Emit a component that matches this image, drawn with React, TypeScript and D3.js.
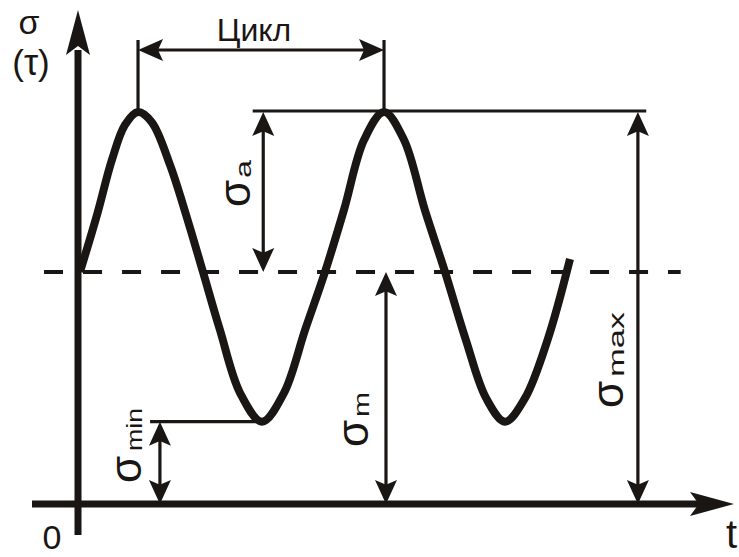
import React from "react";
import * as d3 from "d3";

// stress curve: time in cycles, stress in units of sigma
const WAVE_T = [0.008, 0.077, 0.138, 0.191, 0.244, 0.3, 0.374, 0.443, 0.508, 0.577, 0.659, 0.748, 0.837, 0.923, 1.004, 1.081, 1.163, 1.244, 1.325, 1.41, 1.492, 1.577, 1.659, 1.736, 1.817, 1.911, 2.0];
const WAVE_SIGMA = [5.92, 7.37, 8.78, 9.67, 10, 9.74, 8.65, 7.3, 5.92, 4.44, 2.83, 2.1, 2.83, 4.44, 5.92, 7.5, 9.29, 10, 9.29, 7.5, 5.92, 4.18, 2.7, 2.1, 2.7, 4.23, 6.25];

const SIGMA_MAX = 10;
const SIGMA_M = 5.92;
const SIGMA_MIN = 2.1;
const PEAK_T = [0.244, 1.244];
const TROUGH_T = [0.748, 1.736];

const W = 739;
const H = 557;
const INK = "#1a1614";
const FONT = "'Liberation Sans', Arial, sans-serif";

const x = d3.scaleLinear().domain([0, 1]).range([78, 324]);
const y = d3.scaleLinear().domain([0, 10]).range([504, 112]);

// arrow head with a small notch at the back, (dx, dy) = unit vector it points along
function head(tx: number, ty: number, dx: number, dy: number, len: number, hw: number) {
  const bx = tx - dx * len;
  const by = ty - dy * len;
  const nx = tx - dx * len * 0.8;
  const ny = ty - dy * len * 0.8;
  return `M${tx},${ty}L${bx - dy * hw},${by + dx * hw}L${nx},${ny}L${bx + dy * hw},${by - dx * hw}Z`;
}

function VDim({ t, s0, s1 }: { t: number; s0: number; s1: number }) {
  const px = x(t);
  const yTop = y(s1);
  const yBot = y(s0);
  return (
    <g>
      <line x1={px} x2={px} y1={yTop + 10} y2={yBot - 10} stroke={INK} strokeWidth={3.2} />
      <path d={head(px, yTop, 0, -1, 24, 11)} fill={INK} />
      <path d={head(px, yBot, 0, 1, 24, 11)} fill={INK} />
    </g>
  );
}

function SigmaLabel({ bx, start, sub, subLen, gap }: { bx: number; start: number; sub: string; subLen: number; gap: number }) {
  return (
    <g fontFamily={FONT} fill={INK}>
      <text transform={`translate(${bx},${start}) rotate(-90)`} fontSize={44}>σ</text>
      <text
        transform={`translate(${bx + 1},${start - 25 - gap}) rotate(-90)`}
        fontSize={22}
        textLength={subLen}
        lengthAdjust="spacingAndGlyphs"
      >
        {sub}
      </text>
    </g>
  );
}

export default function App() {
  const wave = d3
    .line<number>()
    .x((_, i) => x(WAVE_T[i]))
    .y((s) => y(s))
    .curve(d3.curveCatmullRom.alpha(0.5))(WAVE_SIGMA);

  const yCycle = 50;
  const yCycleTop = 40;

  return (
    <svg width={W} height={H} style={{ position: "fixed", left: 0, top: 0, background: "#fff" }}>
      {/* mean stress level */}
      <line x1={x(-0.138)} x2={x(2.45)} y1={y(SIGMA_M)} y2={y(SIGMA_M)} stroke={INK} strokeWidth={4} strokeDasharray="19 20" />

      {/* axes */}
      <line x1={x(0)} x2={x(0)} y1={535} y2={50} stroke={INK} strokeWidth={7} />
      <path d={head(x(0), 10, 0, -1, 45, 12)} fill={INK} />
      <line x1={32} x2={700} y1={y(0)} y2={y(0)} stroke={INK} strokeWidth={7} />
      <path d={head(734, y(0), 1, 0, 44, 12)} fill={INK} />

      {/* cycle dimension */}
      {PEAK_T.map((t) => (
        <line key={t} x1={x(t)} x2={x(t)} y1={yCycleTop} y2={y(SIGMA_MAX)} stroke={INK} strokeWidth={3.2} />
      ))}
      <line x1={x(PEAK_T[0]) + 10} x2={x(PEAK_T[1]) - 10} y1={yCycle} y2={yCycle} stroke={INK} strokeWidth={3.2} />
      <path d={head(x(PEAK_T[0]), yCycle, -1, 0, 25, 11)} fill={INK} />
      <path d={head(x(PEAK_T[1]), yCycle, 1, 0, 25, 11)} fill={INK} />
      <text x={254} y={41} textAnchor="middle" fontFamily={FONT} fontSize={32} fill={INK}>Цикл</text>

      {/* extension lines */}
      <line x1={x(0.71)} x2={x(2.31)} y1={y(SIGMA_MAX) - 1} y2={y(SIGMA_MAX) - 1} stroke={INK} strokeWidth={3.2} />
      <line x1={x(0.293)} x2={x(TROUGH_T[0])} y1={y(SIGMA_MIN)} y2={y(SIGMA_MIN)} stroke={INK} strokeWidth={3.2} />

      {/* dimension arrows */}
      <VDim t={TROUGH_T[0] + 0.005} s0={SIGMA_M} s1={SIGMA_MAX} />
      <VDim t={1.252} s0={0} s1={SIGMA_M} />
      <VDim t={2.276} s0={0} s1={SIGMA_MAX} />
      <VDim t={0.333} s0={0} s1={SIGMA_MIN} />

      {/* stress curve */}
      <path d={wave ?? ""} fill="none" stroke={INK} strokeWidth={8} strokeLinejoin="round" />

      {/* labels */}
      <SigmaLabel bx={250} start={207} sub="a" subLen={18} gap={4} />
      <SigmaLabel bx={368} start={447} sub="m" subLen={25} gap={5} />
      <SigmaLabel bx={141} start={483} sub="min" subLen={43} gap={7} />
      <SigmaLabel bx={623} start={408} sub="max" subLen={65} gap={6} />

      <text x={29} y={34} textAnchor="middle" fontFamily={FONT} fontSize={34} fill={INK}>σ</text>
      <text x={31} y={75} textAnchor="middle" fontFamily={FONT} fill={INK}>
        <tspan fontSize={35}>(</tspan>
        <tspan fontSize={36}>τ</tspan>
        <tspan fontSize={35}>)</tspan>
      </text>
      <text x={52} y={549} textAnchor="middle" fontFamily={FONT} fontSize={34} fill={INK}>0</text>
      <text x={726} y={548} fontFamily={FONT} fontSize={40} fill={INK}>t</text>
    </svg>
  );
}
